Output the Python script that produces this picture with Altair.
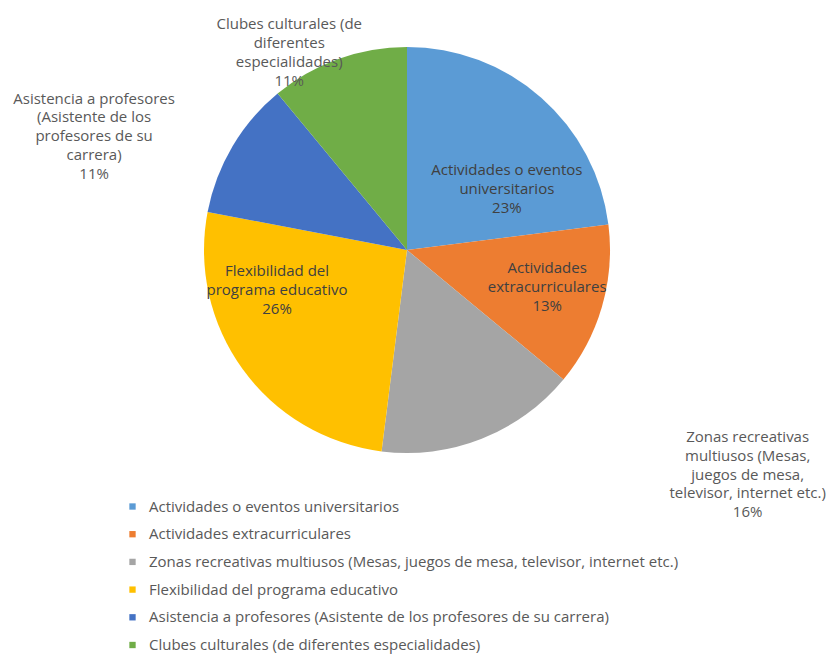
import altair as alt
import pandas as pd

categories = [
    "Actividades o eventos universitarios",
    "Actividades extracurriculares",
    "Zonas recreativas multiusos (Mesas, juegos de mesa, televisor, internet etc.)",
    "Flexibilidad del programa educativo",
    "Asistencia a profesores (Asistente de los profesores de su carrera)",
    "Clubes culturales (de diferentes especialidades)",
]
values = [23, 13, 16, 26, 11, 11]
label_lines = [
    ["Actividades o eventos", "universitarios"],
    ["Actividades", "extracurriculares"],
    ["Zonas recreativas", "multiusos (Mesas,", "juegos de mesa,", "televisor, internet etc.)"],
    ["Flexibilidad del", "programa educativo"],
    ["Asistencia a profesores", "(Asistente de los", "profesores de su", "carrera)"],
    ["Clubes culturales (de", "diferentes", "especialidades)"],
]
colors = ["#5B9BD5", "#ED7D31", "#A5A5A5", "#FFC000", "#4472C4", "#70AD47"]

df = pd.DataFrame({
    "cat": categories,
    "value": values,
    "idx": list(range(len(categories))),
    "label": ["\n".join(lines + [f"{v}%"]) for lines, v in zip(label_lines, values)],
})

# layout (label radius in px, angular offset in radians, text colour)
W, H = 798, 484
R = 203
FONT = "Open Sans"
FS = 15
LH = 18.8
label_place = [
    (117, 0.30, "#404040"),
    (145, -0.024, "#404040"),
    (408, -0.611, "#595959"),
    (136, 0.33, "#404040"),
    (333, -0.185, "#595959"),
    (230, -0.192, "#595959"),
]

base = alt.Chart(df).encode(
    theta=alt.Theta("value:Q", stack=True),
    order=alt.Order("idx:Q"),
)

pie = base.mark_arc(radius=R).encode(
    color=alt.Color(
        "cat:N",
        scale=alt.Scale(domain=categories, range=colors),
        sort=categories,
        legend=alt.Legend(
            title=None, orient="none", legendX=117, legendY=491,
            direction="vertical", symbolType="square", symbolSize=40,
            symbolStrokeWidth=0, labelFont=FONT, labelFontSize=FS,
            labelColor="#595959", labelOffset=9, rowPadding=11.7,
            padding=0, labelLimit=700,
        ),
    )
)

layers = [pie]
for cat, lines, (r, off, col) in zip(categories, label_lines, label_place):
    n = len(lines) + 1
    layers.append(
        base.mark_text(
            radius=r, thetaOffset=off, font=FONT, fontSize=FS, color=col,
            lineBreak="\n", lineHeight=LH, align="center", baseline="middle",
            dy=-(n - 1) * LH / 2,
        ).encode(
            detail="cat:N",
            text=alt.condition(alt.datum.cat == cat, alt.Text("label:N"), alt.value("")),
        )
    )

chart = alt.layer(*layers).properties(
    width=W, height=H,
    autosize=alt.AutoSizeParams(type="none"),
    padding={"left": 0, "top": 0, "right": 24, "bottom": 162},
).configure_view(stroke=None)

chart.save("out.html", embed_options={"renderer": "svg", "actions": False})
